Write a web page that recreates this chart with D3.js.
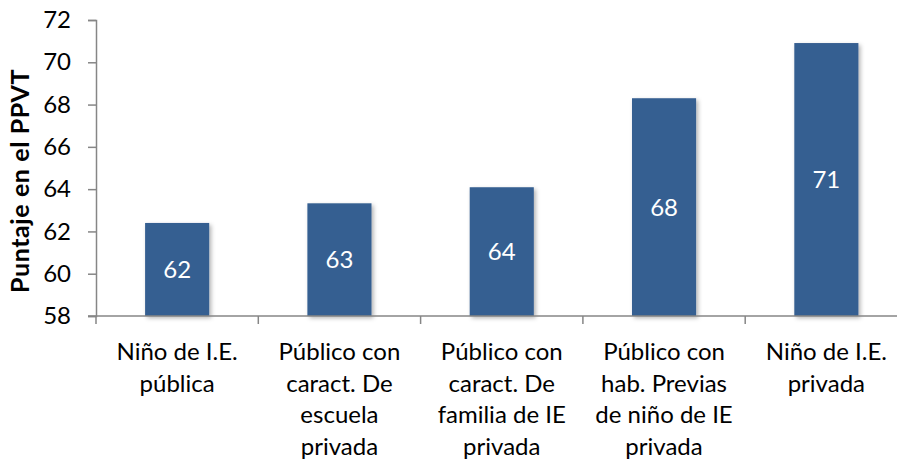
<!DOCTYPE html>
<html>
<head>
<meta charset="utf-8">
<script src="https://cdn.jsdelivr.net/npm/d3@7"></script>
<style>
  body { margin: 0; background: #fff; }
  svg { display: block; font-family: Lato, "Open Sans", sans-serif; }
</style>
</head>
<body>
<div id="chart"></div>
<script>
// chart data
const categories = [
  ["Niño de I.E.", "pública"],
  ["Público con", "caract. De", "escuela", "privada"],
  ["Público con", "caract. De", "familia de IE", "privada"],
  ["Público con", "hab. Previas", "de niño de IE", "privada"],
  ["Niño de I.E.", "privada"]
];
const values = [62.4, 63.33, 64.09, 68.3, 70.91];
const barLabels = ["62", "63", "64", "68", "71"];
const yTicks = [58, 60, 62, 64, 66, 68, 70, 72];

const width = 897, height = 462;
const margin = { top: 20, left: 96, bottom: 146 };
const plotRight = 907.5; // axis runs off the right edge in the original
const fontSize = "24px";

const svg = d3.select("#chart").append("svg")
  .attr("width", width)
  .attr("height", height);

// soft shadow under the bars
const filter = svg.append("defs").append("filter")
  .attr("id", "shadow")
  .attr("x", "-20%").attr("y", "-20%")
  .attr("width", "140%").attr("height", "140%");
filter.append("feDropShadow")
  .attr("dx", 2).attr("dy", 2)
  .attr("stdDeviation", 2)
  .attr("flood-color", "#000")
  .attr("flood-opacity", 0.3);

const x = d3.scaleBand()
  .domain(d3.range(values.length))
  .range([margin.left, plotRight])
  .paddingInner(0.605)
  .paddingOuter(0.3025);

const y = d3.scaleLinear()
  .domain([58, 72])
  .range([height - margin.bottom, margin.top]);

// bars
svg.append("g").selectAll("rect")
  .data(values)
  .join("rect")
  .attr("x", (d, i) => x(i))
  .attr("y", d => y(d))
  .attr("width", x.bandwidth())
  .attr("height", d => y(58) - y(d))
  .attr("fill", "#365f91")
  .attr("filter", "url(#shadow)");

// value labels inside bars
svg.append("g").selectAll("text")
  .data(values)
  .join("text")
  .attr("x", (d, i) => x(i) + x.bandwidth() / 2)
  .attr("y", d => (y(d) + y(58)) / 2)
  .attr("dy", "0.35em")
  .attr("text-anchor", "middle")
  .style("font-size", fontSize)
  .style("fill", "#fff")
  .text((d, i) => barLabels[i]);

// y axis
const yAxis = svg.append("g")
  .attr("transform", `translate(${margin.left},0)`)
  .call(d3.axisLeft(y).tickValues(yTicks).tickSize(8).tickPadding(17).tickFormat(d3.format("d")));
yAxis.select(".domain").attr("stroke", "#868686").attr("stroke-width", 1.5);
yAxis.selectAll(".tick line").attr("stroke", "#868686").attr("stroke-width", 1.5);
yAxis.selectAll(".tick text")
  .style("font-size", fontSize)
  .style("fill", "#000")
  .style("font-family", "Lato, 'Open Sans', sans-serif");

// x axis line with ticks between categories
const y0 = y(58);
svg.append("line")
  .attr("x1", margin.left - 8).attr("x2", plotRight)
  .attr("y1", y0).attr("y2", y0)
  .attr("stroke", "#868686").attr("stroke-width", 1.5);

const step = x.step();
svg.append("g").selectAll("line")
  .data(d3.range(values.length + 1))
  .join("line")
  .attr("x1", i => margin.left + i * step)
  .attr("x2", i => margin.left + i * step)
  .attr("y1", y0)
  .attr("y2", y0 + 8)
  .attr("stroke", "#868686").attr("stroke-width", 1.5);

// category labels
const catGroup = svg.append("g").selectAll("text")
  .data(categories)
  .join("text")
  .attr("x", (d, i) => x(i) + x.bandwidth() / 2)
  .attr("y", 360)
  .attr("text-anchor", "middle")
  .style("font-size", fontSize)
  .style("fill", "#000");
catGroup.selectAll("tspan")
  .data(d => d)
  .join("tspan")
  .attr("x", function() { return this.parentNode.getAttribute("x"); })
  .attr("dy", (d, i) => i === 0 ? 0 : 31.5)
  .text(d => d);

// y axis title
svg.append("text")
  .attr("transform", `translate(29, 181) rotate(-90)`)
  .attr("text-anchor", "middle")
  .style("font-size", "25px")
  .style("font-weight", "bold")
  .style("letter-spacing", "0.6px")
  .style("fill", "#000")
  .text("Puntaje en el PPVT");
</script>
</body>
</html>
